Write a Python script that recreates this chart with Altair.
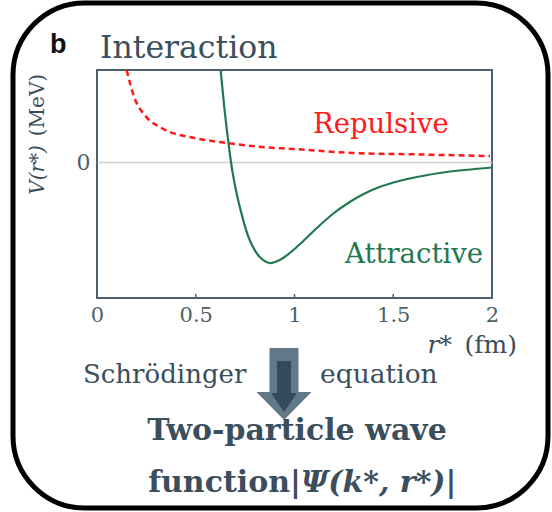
import altair as alt
import pandas as pd

# ---- data ----
rep_r = [0.150, 0.190, 0.241, 0.327, 0.494, 0.662, 0.834, 1.001, 1.295, 1.64, 1.99]
rep_v = [92, 64, 47, 34, 24, 19, 15, 13, 9, 7.5, 6]

att_r = [0.626, 0.646, 0.667, 0.687, 0.723, 0.773, 0.824, 0.875, 0.925, 0.976,
         1.05, 1.113, 1.2, 1.28, 1.35, 1.43, 1.53, 1.62, 1.77, 2.0]
att_v = [92, 52, 17, -11, -45, -78, -95, -101, -98, -91,
         -78, -66, -51, -40, -32, -25, -19, -15, -10, -5.5]

x_ticks = [0, 0.5, 1, 1.5, 2]
inner_ticks = [0.5, 1, 1.5]

W, H = 395, 228
SERIF = "DejaVu Serif"
TXT = "#3b4e5c"
AX = "#4b5f6d"
RED = "#ff1a1a"
GREEN = "#22784e"

rep = pd.DataFrame({"r": rep_r, "V": rep_v})
att = pd.DataFrame({"r": att_r, "V": att_v})

xs = alt.Scale(domain=[0, 2], nice=False)
ys = alt.Scale(domain=[-136, 92], nice=False, zero=False)

xaxis = alt.Axis(values=x_ticks, format="~g", title=None, domain=False, ticks=False,
                 grid=False, labelFont=SERIF, labelFontSize=21, labelColor=AX,
                 labelPadding=6, labelFlush=False)
yaxis = alt.Axis(values=[0], title=None, domain=False, ticks=False, grid=True,
                 gridColor="#cfcfcf", gridWidth=1.5, labelFont=SERIF,
                 labelFontSize=22, labelColor=AX, labelPadding=7)

base_axes = alt.Chart(rep).mark_line(opacity=0).encode(
    x=alt.X("r:Q", scale=xs, axis=xaxis),
    y=alt.Y("V:Q", scale=ys, axis=yaxis),
)

rep_line = alt.Chart(rep).mark_line(color=RED, strokeWidth=2.5, strokeDash=[6, 4],
                                    interpolate="monotone", clip=True).encode(
    x=alt.X("r:Q", scale=xs), y=alt.Y("V:Q", scale=ys))
att_line = alt.Chart(att).mark_line(color=GREEN, strokeWidth=2.2,
                                    interpolate="catmull-rom", clip=True).encode(
    x=alt.X("r:Q", scale=xs), y=alt.Y("V:Q", scale=ys))

ticks = alt.Chart(pd.DataFrame({"r": inner_ticks})).mark_rule(color=AX, strokeWidth=1.5).encode(
    x=alt.X("r:Q", scale=xs), y=alt.value(H), y2=alt.value(H - 4))


def txt(s, x, y, size, color=TXT, align="left", baseline="alphabetic", font=SERIF,
        weight="normal", style="normal", angle=0):
    return alt.Chart(pd.DataFrame({"t": [s]})).mark_text(
        align=align, baseline=baseline, font=font, fontSize=size, color=color,
        fontWeight=weight, fontStyle=style, angle=angle).encode(
        text="t:N", x=alt.value(x), y=alt.value(y))


texts = [
    txt("b", -47, -17, 27, color="#111111", font="Liberation Sans", weight="bold"),
    txt("Interaction", 3, -12, 31.5),
    txt("(MeV)", -59, 35, 20, angle=270, align="center", baseline="middle"),
    txt("V(r*)", -59, 100, 20, angle=270, align="center", baseline="middle", style="italic"),
    txt("Repulsive", 216, 63, 27.5, color=RED),
    txt("Attractive", 248, 193, 27.5, color=GREEN),
    txt("r*", 355, 283, 25, style="italic", align="right"),
    txt("(fm)", 420, 283, 25, align="right"),
    txt("Schrödinger", -14, 313, 26),
    txt("equation", 223, 313, 26.5),
    txt("Two-particle wave", 200, 370, 30, align="center", weight="bold"),
    txt("function", 193, 422, 30, weight="bold", align="right"),
    txt("|Ψ(k*, r*)|", 193, 422, 30, weight="bold", style="italic"),
]

outer = "M-0.403,-1 L0.403,-1 L0.403,0.222 L0.764,0.222 L0,1 L-0.764,0.222 L-0.403,0.222 Z"
inner = "M-0.194,-0.639 L0.194,-0.639 L0.194,0.25 L0.36,0.25 L0,0.778 L-0.36,0.25 L-0.194,0.25 Z"
one = pd.DataFrame({"a": [0]})
arrow_out = alt.Chart(one).mark_point(shape=outer, size=5184, filled=True, fill="#62798a",
                                      strokeWidth=0, opacity=1).encode(
    x=alt.value(187), y=alt.value(314))
arrow_in = alt.Chart(one).mark_point(shape=inner, size=5184, filled=True, fill="#34495a",
                                     strokeWidth=0, opacity=1).encode(
    x=alt.value(187), y=alt.value(314))

border = alt.Chart(one).mark_rect(fill="transparent", stroke="black", strokeWidth=5,
                                  cornerRadius=72).encode(
    x=alt.value(-84), x2=alt.value(451), y=alt.value(-67), y2=alt.value(438))

chart = alt.layer(base_axes, ticks, rep_line, att_line, border, arrow_out, arrow_in, *texts).properties(
    width=W, height=H,
    autosize=alt.AutoSizeParams(type="none"),
    padding={"left": 97, "top": 70, "right": 60, "bottom": 214},
    background="white",
).configure_view(stroke=AX, strokeWidth=2)

chart.save("out.html", embed_options={"renderer": "svg", "actions": False})
